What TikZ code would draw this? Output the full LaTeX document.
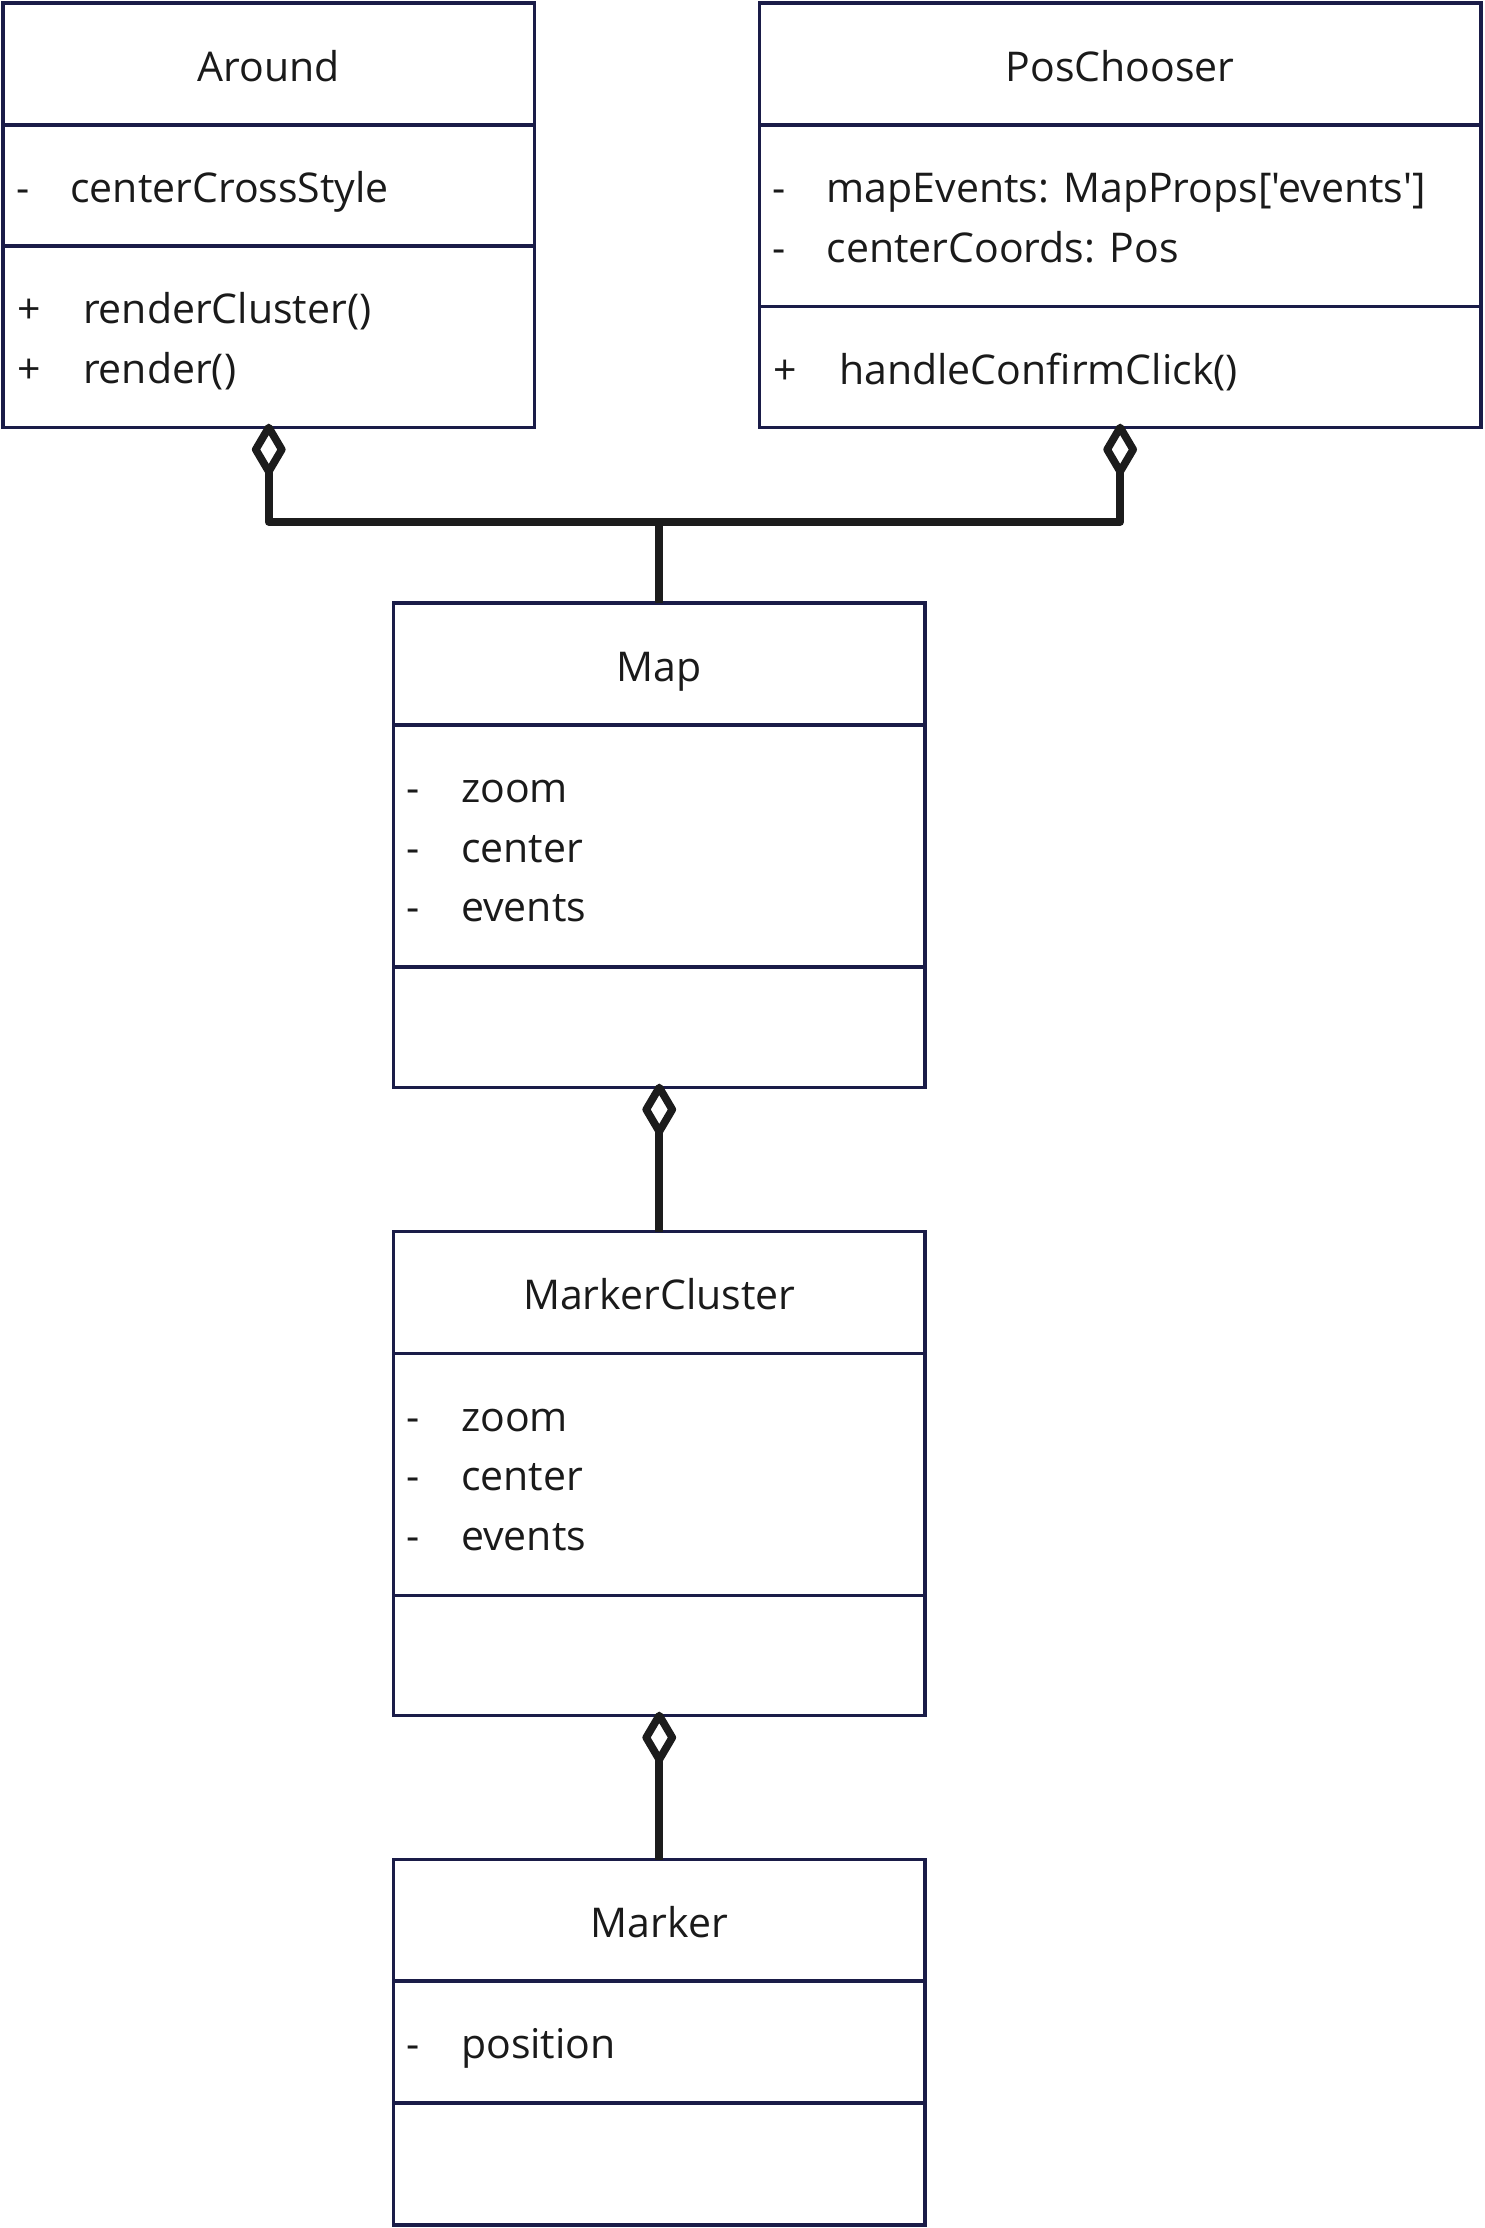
\documentclass[tikz,border=0pt]{standalone}
\usepackage{fontspec}
\setmainfont{Open Sans}[Ligatures=TeXOff]
\usetikzlibrary{calc}
\definecolor{boxline}{RGB}{26,28,72}
\definecolor{ink}{RGB}{26,26,26}
\definecolor{connline}{RGB}{28,28,28}
\begin{document}
\begin{tikzpicture}[x=1pt,y=-1pt,
  classbox/.style={draw=boxline, line width=3.2pt, inner sep=0pt, outer sep=0pt, anchor=north west},
  divider/.style={draw=boxline, line width=3.2pt},
  lbl/.style={anchor=base west, inner sep=0pt, outer sep=0pt, text=ink, font=\fontsize{41}{50}\selectfont},
  ttl/.style={anchor=base, inner sep=0pt, outer sep=0pt, text=ink, font=\fontsize{41}{50}\selectfont},
  conn/.style={draw=connline, line width=7.7pt, line join=round},
]
\useasboundingbox (0,0) rectangle (1484,2228);

% ---------------- Around ----------------
\node[classbox, minimum width=531.5pt, minimum height=424.5pt] (around) at (3,3) {};
\draw[divider] (around.west |- 0,125) -- (around.east |- 0,125);
\draw[divider] (around.west |- 0,246) -- (around.east |- 0,246);
\node[ttl] (aroundT) at (268.75,81) {Around};
\node[lbl] (aroundA1s) at (16.4,202.5) {-};
\node[lbl] (aroundA1) at (70.4,202.5) {centerCrossStyle};
\node[lbl] (aroundM1s) at (17.6,323.5) {+};
\node[lbl] (aroundM1) at (83,323.5) {renderCluster()};
\node[lbl] (aroundM2s) at (17.6,383) {+};
\node[lbl] (aroundM2) at (83,383) {render()};

% ---------------- PosChooser ----------------
\node[classbox, minimum width=721.7pt, minimum height=424.5pt] (pos) at (759.3,3) {};
\draw[divider] (pos.west |- 0,125) -- (pos.east |- 0,125);
\draw[divider] (pos.west |- 0,306.5) -- (pos.east |- 0,306.5);
\node[ttl] (posT) at (1120.15,81) {PosChooser};
\node[lbl] (posA1s) at (772.7,202.5) {-};
\node[lbl] (posA1) at (826.6,202.5) {mapEvents: MapProps['events']};
\node[lbl] (posA2s) at (772.7,262) {-};
\node[lbl] (posA2) at (826.6,262) {centerCoords: Pos};
\node[lbl] (posM1s) at (773.9,384) {+};
\node[lbl] (posM1) at (839.3,384) {handleConfirmClick()};

% ---------------- Map ----------------
\node[classbox, minimum width=531.5pt, minimum height=484.5pt] (map) at (393.5,603) {};
\draw[divider] (map.west |- 0,725) -- (map.east |- 0,725);
\draw[divider] (map.west |- 0,967) -- (map.east |- 0,967);
\node[ttl] (mapT) at (659.25,681) {Map};
\node[lbl] (mapA1s) at (406.9,802.5) {-};
\node[lbl] (mapA1) at (461.1,802.5) {zoom};
\node[lbl] (mapA2s) at (406.9,862) {-};
\node[lbl] (mapA2) at (461.1,862) {center};
\node[lbl] (mapA3s) at (406.9,921.5) {-};
\node[lbl] (mapA3) at (461.1,921.5) {events};

% ---------------- MarkerCluster ----------------
\node[classbox, minimum width=531.5pt, minimum height=484pt] (mc) at (393.5,1231.5) {};
\draw[divider] (mc.west |- 0,1353.5) -- (mc.east |- 0,1353.5);
\draw[divider] (mc.west |- 0,1595.5) -- (mc.east |- 0,1595.5);
\node[ttl] (mcT) at (659.25,1309.5) {MarkerCluster};
\node[lbl] (mcA1s) at (406.9,1431) {-};
\node[lbl] (mcA1) at (461.1,1431) {zoom};
\node[lbl] (mcA2s) at (406.9,1490.5) {-};
\node[lbl] (mcA2) at (461.1,1490.5) {center};
\node[lbl] (mcA3s) at (406.9,1550) {-};
\node[lbl] (mcA3) at (461.1,1550) {events};

% ---------------- Marker ----------------
\node[classbox, minimum width=531.5pt, minimum height=365.5pt] (marker) at (393.5,1859.5) {};
\draw[divider] (marker.west |- 0,1981) -- (marker.east |- 0,1981);
\draw[divider] (marker.west |- 0,2103) -- (marker.east |- 0,2103);
\node[ttl] (markerT) at (659.25,1937.5) {Marker};
\node[lbl] (markerA1s) at (406.9,2058.5) {-};
\node[lbl] (markerA1) at (461.1,2058.5) {position};

% ---------------- Connectors ----------------
\coordinate (junction) at (659.25,522);
\draw[conn] (around.south) -- ++(-13,22) -- ++(13,22) -- ++(13,-22) -- cycle;
\draw[conn] ([yshift=-44pt]around.south) |- (junction) -- (map.north);
\draw[conn] (pos.south) -- ++(-13,22) -- ++(13,22) -- ++(13,-22) -- cycle;
\draw[conn] ([yshift=-44pt]pos.south) |- (junction);
\draw[conn] (map.south) -- ++(-13,22) -- ++(13,22) -- ++(13,-22) -- cycle;
\draw[conn] ([yshift=-44pt]map.south) -- (mc.north);
\draw[conn] (mc.south) -- ++(-13,22) -- ++(13,22) -- ++(13,-22) -- cycle;
\draw[conn] ([yshift=-44pt]mc.south) -- (marker.north);
\end{tikzpicture}
\end{document}
